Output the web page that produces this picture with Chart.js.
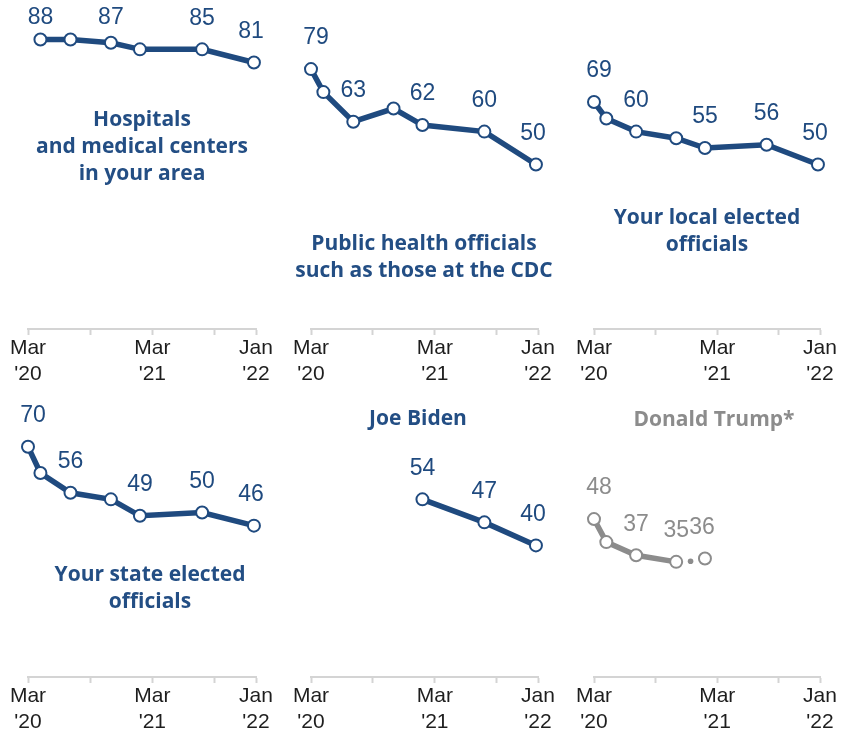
<!DOCTYPE html>
<html>
<head>
<meta charset="utf-8">
<script src="https://cdn.jsdelivr.net/npm/chart.js@4.4.1/dist/chart.umd.min.js"></script>
<style>
  body { margin: 0; width: 842px; height: 732px; overflow: hidden; background: #fff; position: relative; }
  canvas.panel { position: absolute; }
  .title { position: absolute; transform: translate(-50%, -50%); text-align: center; white-space: nowrap;
           font: 700 21px 'Open Sans', 'Liberation Sans', sans-serif; line-height: 27px; color: #234e84; }
</style>
</head>
<body>
<script>
// survey waves, as months after March 2020
var waves = ['Mar 2020', 'Apr 2020', 'Jul 2020', 'Nov 2020', 'Feb 2021', 'Aug 2021', 'Jan 2022'];
var waveMonths = [0, 1.2, 4.1, 8, 10.8, 16.8, 21.8];
var xTicks = [0, 6, 12, 18, 22];
var xTickLabels = { 0: ['Mar', "'20"], 12: ['Mar', "'21"], 22: ['Jan', "'22"] };

// % with a great deal / fair amount of confidence, by wave
var hospitals    = [null, 88, 88, 87, 85, 85, 81];
var publicHealth = [79, 72, 63, 67, 62, 60, 50];
var localOff     = [69, 64, 60, 58, 55, 56, 50];
var stateOff     = [70, 62, 56, 54, 49, 50, 46];
var biden        = [null, null, null, null, 54, 47, 40];
var trump        = [48, 41, 37, 35, 36, null, null];

// which waves get a number printed above them
var hospitalsLbl    = [0, 1, 0, 1, 0, 1, 1];
var publicHealthLbl = [1, 0, 1, 0, 1, 1, 1];
var localOffLbl     = [1, 0, 1, 0, 1, 1, 1];
var stateOffLbl     = [1, 0, 1, 0, 1, 1, 1];
var bidenLbl        = [0, 0, 0, 0, 1, 1, 1];
var trumpLbl        = [1, 0, 1, 1, 1, 0, 0];

var BLUE = '#1f4a7f';
var GRAY = '#8c8c8c';

var colLeft = [28, 311, 594];
var colRight = [256, 538, 820];
var rowTop = [0, 348];
var plotH = 329;
var axisH = 55;

var panels = [
  { values: hospitals, shown: hospitalsLbl, col: 0, row: 0, color: BLUE,
    title: ['Hospitals', 'and medical centers', 'in your area'], tx: 142, ty: 145 },
  { values: publicHealth, shown: publicHealthLbl, col: 1, row: 0, color: BLUE,
    title: ['Public health officials', 'such as those at the CDC'], tx: 424, ty: 256 },
  { values: localOff, shown: localOffLbl, col: 2, row: 0, color: BLUE,
    title: ['Your local elected', 'officials'], tx: 707, ty: 230 },
  { values: stateOff, shown: stateOffLbl, col: 0, row: 1, color: BLUE,
    title: ['Your state elected', 'officials'], tx: 150, ty: 587 },
  { values: biden, shown: bidenLbl, col: 1, row: 1, color: BLUE,
    title: ['Joe Biden'], tx: 418, ty: 417 },
  { values: trump, shown: trumpLbl, col: 2, row: 1, color: GRAY, breakAfter: 3,
    title: ['Donald Trump*'], tx: 714, ty: 418 }
];

// prints the numbers over the points, plus the small dot in a broken line
var valueLabels = {
  id: 'valueLabels',
  afterDatasetsDraw: function (chart) {
    var ctx = chart.ctx;
    var area = chart.chartArea;
    chart.data.datasets.forEach(function (ds, di) {
      var meta = chart.getDatasetMeta(di);
      var last = -1;
      ds.data.forEach(function (d, i) { if (d.y !== null) last = i; });
      ctx.save();
      ctx.font = '23px "Liberation Sans", Arial, sans-serif';
      ctx.fillStyle = ds.borderColor;
      ctx.textAlign = 'center';
      ctx.textBaseline = 'middle';
      ds.data.forEach(function (d, i) {
        if (d.y === null || !ds.shown[i]) return;
        var el = meta.data[i];
        var dx = d.x === 0 ? 5 : (i === last ? -3 : 0);
        var y = Math.max(el.y - 31, area.top + 18);
        ctx.fillText(String(d.y), el.x + dx, y);
      });
      if (ds.breakAfter !== undefined) {
        var a = meta.data[ds.breakAfter], b = meta.data[ds.breakAfter + 1];
        ctx.beginPath();
        ctx.arc((a.x + b.x) / 2, (a.y + b.y) / 2 + 1, 2.8, 0, Math.PI * 2);
        ctx.fill();
      }
      ctx.restore();
    });
  }
};

panels.forEach(function (p) {
  var left = colLeft[p.col], right = colRight[p.col];
  var cv = document.createElement('canvas');
  cv.className = 'panel';
  var w = right - left + 50;
  cv.style.left = (left - 30) + 'px';
  cv.style.top = rowTop[p.row] + 'px';
  cv.width = w; cv.height = plotH + axisH;
  cv.style.width = w + 'px'; cv.style.height = (plotH + axisH) + 'px';
  document.body.appendChild(cv);

  var t = document.createElement('div');
  t.className = 'title';
  t.style.left = p.tx + 'px';
  t.style.top = p.ty + 'px';
  if (p.color === GRAY) t.style.color = GRAY;
  t.innerHTML = p.title.join('<br>');
  document.body.appendChild(t);

  var pts = waveMonths.map(function (m, i) { return { x: m, y: p.values[i] }; });

  new Chart(cv, {
    type: 'line',
    data: {
      datasets: [{
        data: pts,
        shown: p.shown,
        breakAfter: p.breakAfter,
        borderColor: p.color,
        borderWidth: 5.5,
        pointRadius: 6,
        pointBorderWidth: 2,
        pointBackgroundColor: '#fff',
        pointBorderColor: p.color,
        spanGaps: false,
        clip: false,
        segment: {
          borderColor: function (c) {
            return (p.breakAfter !== undefined && c.p0DataIndex === p.breakAfter) ? 'rgba(0,0,0,0)' : p.color;
          }
        }
      }]
    },
    options: {
      responsive: false,
      animation: false,
      events: [],
      layout: { autoPadding: false, padding: { left: 30, right: 20, top: 0, bottom: 0 } },
      plugins: { legend: { display: false }, tooltip: { enabled: false } },
      scales: {
        x: {
          type: 'linear',
          min: 0,
          max: 22,
          afterBuildTicks: function (s) { s.ticks = xTicks.map(function (v) { return { value: v }; }); },
          afterFit: function (s) { s.height = axisH; },
          border: { color: '#d4d4d4', width: 2 },
          grid: { drawOnChartArea: false, tickLength: 6, tickColor: '#d4d4d4', tickWidth: 2 },
          ticks: {
            autoSkip: false,
            maxRotation: 0,
            padding: 0,
            color: '#1e1e1e',
            font: { family: '"Liberation Sans", Arial, sans-serif', size: 21, lineHeight: 1.25 },
            callback: function (v) { return xTickLabels[v] || ''; }
          }
        },
        y: { display: false, min: 0, max: 100 }
      }
    },
    plugins: [valueLabels]
  });
});
</script>
</body>
</html>
